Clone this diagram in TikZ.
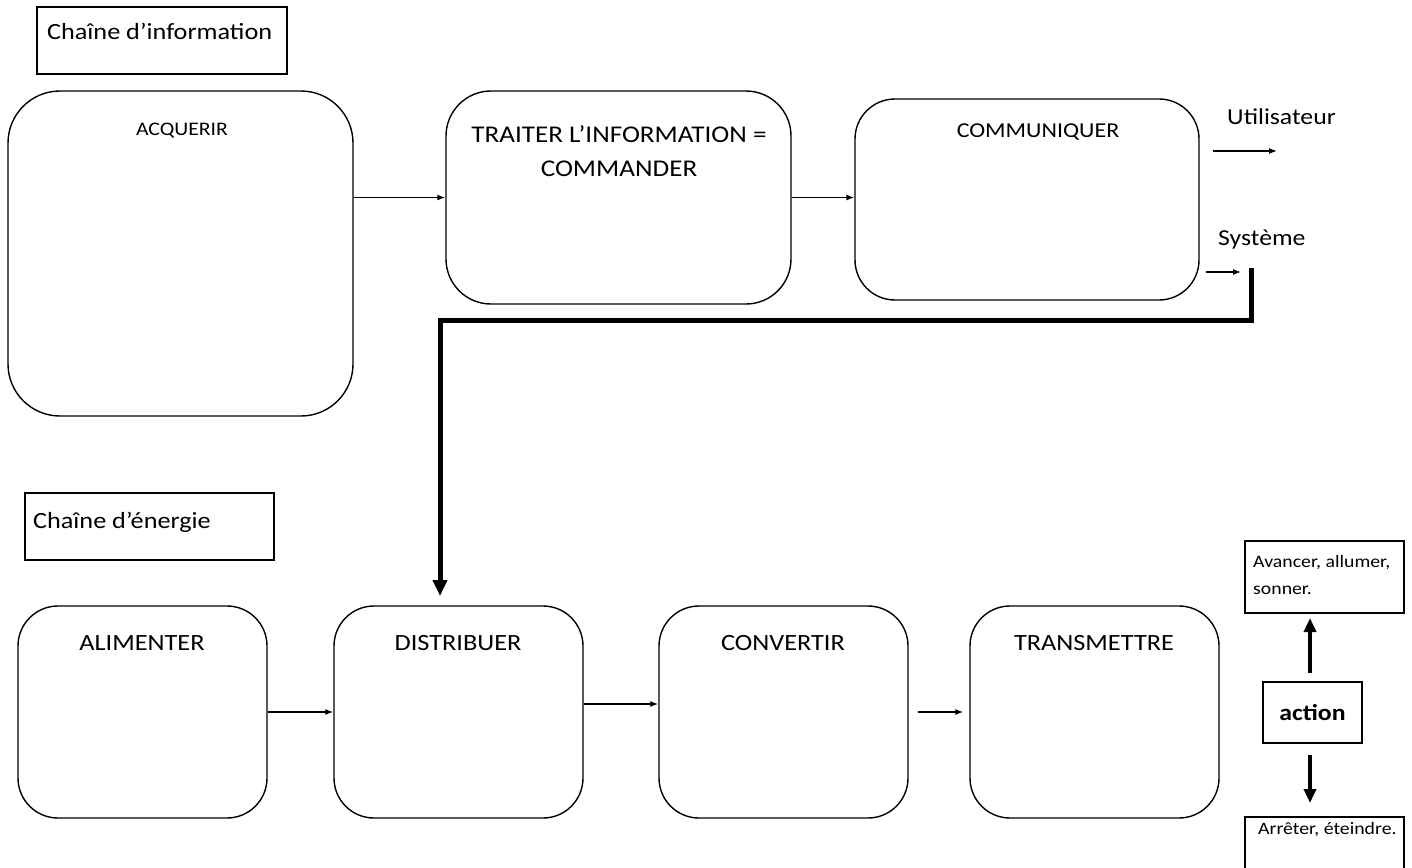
\documentclass[tikz,border=0pt]{standalone}
\usepackage{fontspec}
\setmainfont{Carlito}[FakeStretch=1.13]
\usetikzlibrary{arrows.meta,calc}
\begin{document}
\begin{tikzpicture}[x=1pt,y=-1pt,
  rbox/.style={draw,line width=1.4pt,rounded corners=45pt,inner sep=0pt},
  plainbox/.style={draw,line width=1.4pt,inner sep=0pt},
  lbl/.style={font=\fontsize{23.3}{27}\selectfont,inner sep=0pt,align=center},
  big/.style={font=\fontsize{23.2}{27}\selectfont,inner sep=0pt},
  small/.style={font=\fontsize{17.5}{27}\selectfont,inner sep=0pt,align=left},
  arr/.style={line width=1.3pt,-{Latex[length=8pt,width=6pt]}},
  thick arr/.style={line width=5pt,-{Triangle[length=16pt,width=14pt]}},
  mid arr/.style={line width=3.5pt,-{Triangle[length=14pt,width=12pt]}}]
\useasboundingbox (0,0) rectangle (1412,867);
% chain titles
\node[plainbox,minimum width=250pt,minimum height=67pt] (tinfo) at (162,40.5) {};
\node[big,anchor=west] (tinfotxt) at (47,31) {Chaîne d’information};
\node[plainbox,minimum width=249pt,minimum height=67pt] (tener) at (149.5,526.5) {};
\node[big,anchor=west] (tenertxt) at (33,522) {Chaîne d’énergie};
% information chain
\node[rbox,rounded corners=52pt,minimum width=345pt,minimum height=325pt] (acq) at (180.5,253.5) {};
\node[lbl,font=\fontsize{19.2}{25}\selectfont] (acqtxt) at (182,131) {ACQUERIR};
\node[rbox,minimum width=345pt,minimum height=213pt] (trait) at (618.5,197.5) {};
\node[lbl,font=\fontsize{24}{34}\selectfont] (traittxt) at (619,151) {TRAITER L’INFORMATION =\\COMMANDER};
\node[rbox,rounded corners=40pt,minimum width=344pt,minimum height=201pt] (comm) at (1027,199.5) {};
\node[lbl,font=\fontsize{21.2}{25}\selectfont] (commtxt) at (1038,132) {COMMUNIQUER};
\draw[arr] (acq.east |- trait.west) -- (trait.west);
\draw[arr] (trait.east) -- (comm.west |- trait.east);
\node[big,anchor=west,font=\fontsize{22.8}{27}\selectfont] (util) at (1227,117) {Utilisateur};
\node[big,anchor=west,font=\fontsize{22.8}{27}\selectfont] (sys) at (1218,240) {Système};
\coordinate (u1) at (1213,151);
\coordinate (u2) at (1277,151);
\draw[arr] (u1) -- (u2);
\coordinate (s1) at (1206,272);
\coordinate (s2) at (1241,272);
\draw[arr] (s1) -- (s2);
% energy chain
\node[rbox,rounded corners=40pt,minimum width=249pt,minimum height=212pt] (alim) at (142.5,712) {};
\node[lbl] (alimtxt) at (142,643) {ALIMENTER};
\node[rbox,rounded corners=40pt,minimum width=249pt,minimum height=212pt] (dist) at (458.5,712) {};
\node[lbl] (disttxt) at (458,643) {DISTRIBUER};
\node[rbox,rounded corners=40pt,minimum width=249pt,minimum height=212pt] (conv) at (783.5,712) {};
\node[lbl] (convtxt) at (783,643) {CONVERTIR};
\node[rbox,rounded corners=40pt,minimum width=249pt,minimum height=212pt] (trans) at (1094.5,712) {};
\node[lbl] (transtxt) at (1094,643) {TRANSMETTRE};
\draw[arr] (alim.east) -- (dist.west);
\draw[arr] ($(dist.east)+(0,-8)$) -- ($(conv.west)+(0,-8)$);
\draw[arr,shorten <=9pt,shorten >=6pt] (conv.east) -- (trans.west);
% order line
\coordinate (k1) at (1251,268);
\coordinate (k2) at (1251,320);
\coordinate (k3) at (440,320);
\coordinate (k4) at (440,596);
\draw[thick arr] (k1) -- (k2) -- (k3) -- (k4);
% action column
\node[plainbox,minimum width=159pt,minimum height=72pt] (avan) at (1324.5,577) {};
\node[small,anchor=north west] (avantxt) at (1253,555) {Avancer, allumer,\\sonner.};
\node[plainbox,minimum width=99pt,minimum height=61pt,font=\fontsize{22.8}{27}\selectfont\bfseries] (act) at (1312.5,712.5) {action};
\node[plainbox,minimum width=159pt,minimum height=80pt] (arre) at (1324.5,857) {};
\node[small,anchor=west] (arretxt) at (1258,830) {Arrêter, éteindre.};
\coordinate (a1) at (1310,673);
\coordinate (a2) at (1310,618);
\draw[mid arr] (a1) -- (a2);
\coordinate (b1) at (1310,755);
\coordinate (b2) at (1310,803);
\draw[mid arr] (b1) -- (b2);
\end{tikzpicture}
\end{document}
